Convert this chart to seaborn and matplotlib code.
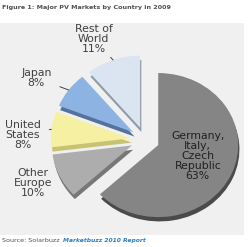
import numpy as np
import matplotlib
matplotlib.use("Agg")
import matplotlib.pyplot as plt
import seaborn as sns
from matplotlib.patches import Rectangle

# data, clockwise from 12 o'clock
markets = ["Germany,\nItaly,\nCzech\nRepublic", "Other\nEurope", "United\nStates", "Japan", "Rest of\nWorld"]
shares = [63, 10, 8, 8, 11]
colors = ["#858585", "#adadad", "#f6f0a2", "#8db3e2", "#dbe5f1"]
side_colors = ["#4a4a4a", "#777777", "#c9c275", "#55729a", "#8f9aa6"]

# label anchors in pie data units (layout)
label_pos = [(0.66, -0.22), (-1.40, -0.60), (-1.53, 0.07), (-1.36, 0.86), (-0.64, 1.40)]
has_leader = [False, False, True, True, True]

sns.set_style("white")
plt.rcParams['font.family'] = ['DejaVu Sans']

fig = plt.figure(figsize=(2.5, 2.47), dpi=100)
fig.patch.set_facecolor("white")

# grey panel behind the chart
fig.patches.append(Rectangle((0, 0.049), 0.976, 0.858, transform=fig.transFigure,
                             facecolor="#f0f0f0", edgecolor="none", zorder=-10))

ax = fig.add_axes([0.18, 0.069, 0.80, 0.729])
ax.set_zorder(2)
explode = [0.18] * len(shares)

# darker copy underneath for the 3d side
ax.pie(shares, colors=side_colors, startangle=90, counterclock=False,
       explode=explode, center=(0.015, -0.06), wedgeprops=dict(linewidth=0))
wedges, _ = ax.pie(shares, colors=colors, startangle=90, counterclock=False,
                   explode=explode, wedgeprops=dict(linewidth=0))
ax.set_aspect("auto")
ax.set_xlim(-1.25, 1.25)
ax.set_ylim(-1.25, 1.25)
ax.axis("off")

for w, name, share, pos, lead in zip(wedges, markets, shares, label_pos, has_leader):
    text = f"{name}\n{share}%"
    ang = np.deg2rad((w.theta1 + w.theta2) / 2)
    cx, cy = w.center
    arc = (cx + w.r * np.cos(ang), cy + w.r * np.sin(ang))
    if lead:
        ax.annotate(text, xy=arc, xytext=pos, ha="center", va="center",
                    fontsize=7.8, color="#404040", linespacing=1.0,
                    arrowprops=dict(arrowstyle="-", color="#404040", lw=0.7,
                                    shrinkA=4, shrinkB=0))
    else:
        ax.text(pos[0], pos[1], text, ha="center", va="center",
                fontsize=7.8, color="#202020" if share == 63 else "#404040",
                linespacing=1.0)

fig.text(0.008, 0.968, "Figure 1: Major PV Markets by Country in 2009",
         fontsize=4.6, fontweight="bold", color="#505050", va="center")
fig.text(0.008, 0.028, "Source: Solarbuzz", fontsize=4.6, color="#505050", va="center")
fig.text(0.252, 0.028, "Marketbuzz 2010 Report", fontsize=4.3, color="#2a7fc0",
         fontstyle="italic", fontweight="bold", va="center")

fig.savefig("out.png", dpi=100, facecolor="white")
